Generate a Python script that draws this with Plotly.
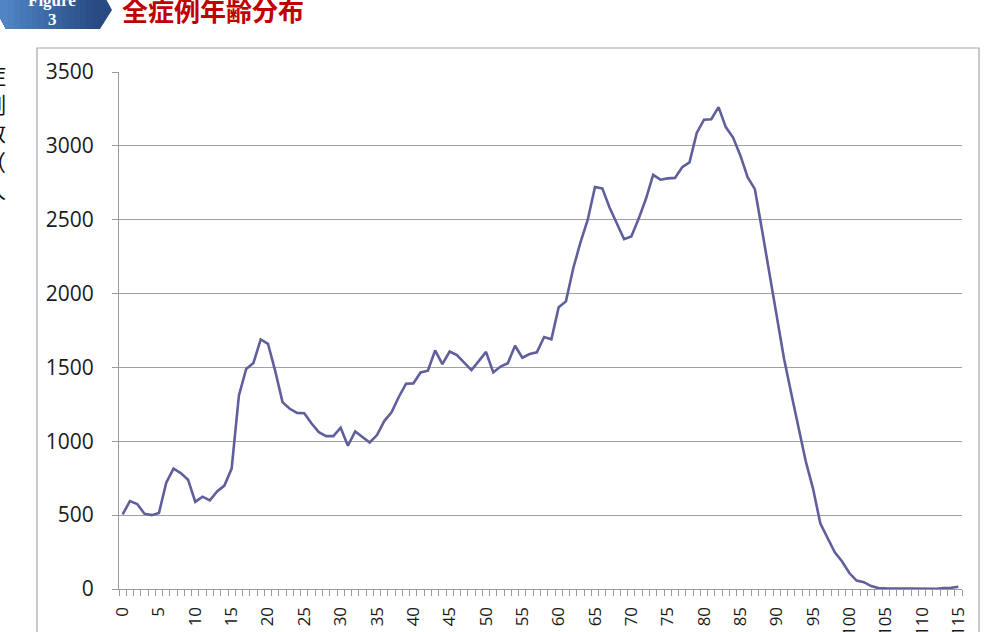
import plotly.graph_objects as go

ages = list(range(0, 116))
counts = [
    505, 595, 575, 510, 500, 515, 720, 815, 785, 740,
    590, 625, 600, 660, 700, 815, 1310, 1490, 1530, 1690,
    1660, 1475, 1265, 1220, 1192, 1190, 1120, 1062, 1035, 1035,
    1092, 970, 1067, 1030, 992, 1042, 1137, 1196, 1300, 1390,
    1392, 1466, 1478, 1615, 1522, 1608, 1584, 1532, 1482, 1543,
    1605, 1466, 1506, 1528, 1647, 1566, 1591, 1602, 1706, 1690,
    1907, 1947, 2170, 2347, 2500, 2722, 2712, 2583, 2470, 2368,
    2386, 2506, 2640, 2804, 2771, 2780, 2783, 2855, 2888, 3088,
    3177, 3180, 3262, 3127, 3056, 2935, 2788, 2707, 2425, 2135,
    1840, 1562, 1325, 1088, 865, 680, 445, 345, 248, 186,
    108, 57, 46, 20, 6, 4, 4, 3, 2, 1,
    1, 1, 2, 7, 8, 15,
]
xtick_vals = list(range(0, 116, 5))
xtick_text = [str(v) for v in xtick_vals]
ytick_vals = [0, 500, 1000, 1500, 2000, 2500, 3000, 3500]

title_text = "全症例年齢分布"
badge_top = "Figure"
badge_num = "3"
ytitle = "症例数（人）"

W, H = 990, 632
L, R, T, B = 119, 962, 72, 589


def px(x):
    return (x - L) / (R - L)


def py(y):
    return (B - y) / (B - T)


def poly(pts):
    return "M " + " L ".join(f"{px(a)},{py(b)}" for a, b in pts) + " Z"


fig = go.Figure()
fig.add_trace(go.Scatter(
    x=ages, y=counts, mode="lines",
    line=dict(color="#5f5f9c", width=2.6),
    showlegend=False, hoverinfo="x+y",
))

shapes = []
# outer chart frame
shapes.append(dict(type="rect", xref="paper", yref="paper",
                   x0=px(37), x1=px(979), y0=py(660), y1=py(48),
                   line=dict(color="#a6a6a6", width=1.2), fillcolor="rgba(0,0,0,0)", layer="below"))

# badge with a stepped horizontal gradient
full = [(-12, -12), (100, -12), (112, 10), (100, 29), (6, 29), (-4, 10)]
shapes.append(dict(type="path", xref="paper", yref="paper", path=poly(full),
                   fillcolor="#274a82", line=dict(width=0), layer="above"))
c_light = (80, 134, 198)
c_dark = (39, 74, 130)
cuts = list(range(98, 6, -6))
for c in cuts:
    t = (c - 6) / (100 - 6)
    col = tuple(int(round(c_light[i] + (c_dark[i] - c_light[i]) * t)) for i in range(3))
    pts = [(-12, -12), (c, -12), (c, 29), (6, 29), (-4, 10)]
    shapes.append(dict(type="path", xref="paper", yref="paper", path=poly(pts),
                       fillcolor="rgb(%d,%d,%d)" % col, line=dict(width=0), layer="above"))

fig.update_layout(
    width=W, height=H,
    margin=dict(l=L, r=W - R, t=T, b=H - B, pad=0, autoexpand=False),
    paper_bgcolor="white", plot_bgcolor="white",
    shapes=shapes,
    xaxis=dict(
        range=[-0.5, 115.5], tickmode="array", tickvals=xtick_vals, ticktext=xtick_text,
        tickangle=-90, ticks="", showgrid=False, zeroline=False, automargin=False,
        showline=True, linecolor="#9a9a9a", linewidth=1.2,
        ticklabelstandoff=10,
        tickfont=dict(family="Open Sans", size=17, color="#1a1a1a"),
        minor=dict(tickmode="linear", tick0=-0.5, dtick=1, ticks="outside",
                   ticklen=6, tickcolor="#9a9a9a", tickwidth=1, showgrid=False),
    ),
    yaxis=dict(
        range=[0, 3500], tickmode="array", tickvals=ytick_vals, automargin=False,
        showgrid=True, gridcolor="#a0a0a0", gridwidth=1.3, zeroline=False,
        showline=True, linecolor="#9a9a9a", linewidth=1.2,
        ticks="outside", ticklen=6, tickcolor="#9a9a9a",
        ticklabelstandoff=14,
        tickfont=dict(family="Open Sans", size=21, color="#1a1a1a"),
    ),
    annotations=[
        dict(text=f"<b>{title_text}</b>", xref="paper", yref="paper",
             x=px(120), y=py(10), xanchor="left", yanchor="middle", showarrow=False,
             font=dict(family="Noto Sans CJK JP", size=26, color="#c00000")),
        dict(text=f"<b>{badge_top}</b>", xref="paper", yref="paper",
             x=px(52), y=py(0), xanchor="center", yanchor="middle", showarrow=False,
             font=dict(family="Liberation Serif", size=17, color="white")),
        dict(text=f"<b>{badge_num}</b>", xref="paper", yref="paper",
             x=px(52), y=py(20), xanchor="center", yanchor="middle", showarrow=False,
             font=dict(family="Liberation Serif", size=17, color="white")),
        dict(text="<br>".join(list(ytitle)), xref="paper", yref="paper",
             x=px(-5), y=py(145), xanchor="center", yanchor="middle", showarrow=False,
             font=dict(family="Noto Sans CJK JP", size=22, color="#111111")),
    ],
)

fig.write_html("out.html")
